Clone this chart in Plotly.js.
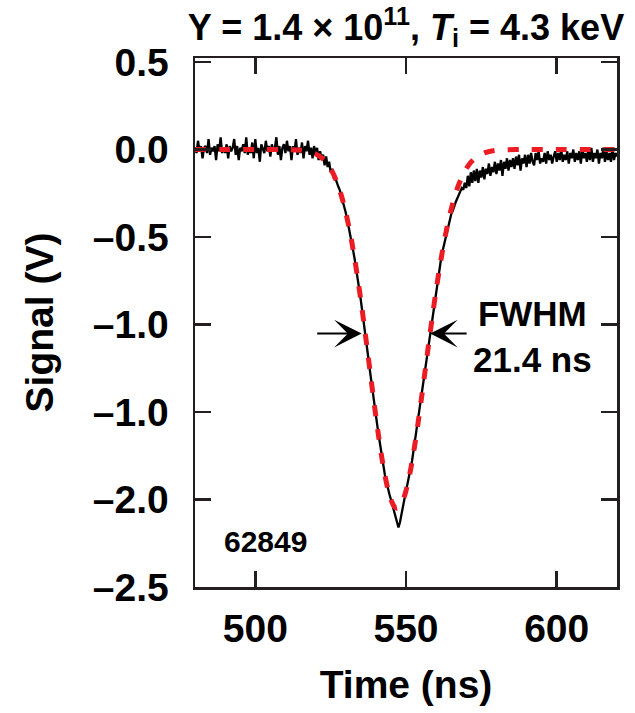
<!DOCTYPE html>
<html>
<head>
<meta charset="utf-8">
<script src="https://cdn.plot.ly/plotly-3.0.1.min.js"></script>
<style>html,body{margin:0;padding:0;background:#fff;}#chart{width:635px;height:713px;}</style>
</head>
<body>
<div id="chart"></div>
<script>
// Measured signal, sampled every 0.5 ns from 480 ns to 620 ns (rows of 5 ns)
const signalStartNs = 480;
const signalStepNs = 0.5;
const signalV = [
  0.01, -0.02, 0.05, -0.01, 0.02, -0.05, 0.01, 0.02, -0.02, 0.06,
  -0.03, 0.01, -0.01, 0.02, -0.06, 0.03, -0.01, 0.07, -0.02, 0.01,
  -0.02, 0.03, -0.05, 0.02, -0.01, 0.01, 0.06, -0.03, 0.02, -0.06,
  0.01, -0.01, 0.03, -0.02, 0.07, -0.03, 0.01, -0.02, 0.04, -0.05,
  0.06, -0.02, 0.01, -0.07, 0.03, 0.00, -0.02, 0.05, -0.01, 0.02,
  -0.04, 0.03, -0.01, 0.01, 0.07, -0.03, 0.02, -0.06, 0.01, 0.03,
  -0.02, 0.05, -0.01, 0.02, -0.06, 0.02, -0.01, 0.06, -0.03, 0.01,
  -0.02, 0.04, -0.05, 0.02, -0.01, 0.05, -0.03, 0.01, -0.05, 0.02,
  -0.03, 0.01, -0.06, -0.01, -0.05, -0.03, -0.09, -0.04, -0.10, -0.07,
  -0.13, -0.11, -0.16, -0.16, -0.19, -0.21, -0.23, -0.26, -0.29, -0.32,
  -0.36, -0.40, -0.44, -0.48, -0.53, -0.58, -0.63, -0.68, -0.74, -0.80,
  -0.86, -0.92, -0.99, -1.05, -1.12, -1.19, -1.26, -1.33, -1.39, -1.46,
  -1.52, -1.58, -1.64, -1.70, -1.76, -1.81, -1.86, -1.90, -1.94, -1.97,
  -2.00, -2.03, -2.06, -2.09, -2.12, -2.16, -2.13, -2.08, -2.03, -1.99,
  -1.95, -1.91, -1.87, -1.83, -1.78, -1.72, -1.66, -1.60, -1.54, -1.48,
  -1.42, -1.36, -1.30, -1.23, -1.17, -1.10, -1.04, -0.98, -0.92, -0.86,
  -0.80, -0.74, -0.69, -0.64, -0.59, -0.55, -0.51, -0.47, -0.44, -0.40,
  -0.37, -0.35, -0.32, -0.30, -0.28, -0.26, -0.25, -0.22, -0.23, -0.19,
  -0.22, -0.15, -0.21, -0.13, -0.19, -0.12, -0.18, -0.11, -0.19, -0.12,
  -0.16, -0.10, -0.17, -0.11, -0.14, -0.08, -0.15, -0.10, -0.13, -0.07,
  -0.14, -0.08, -0.12, -0.06, -0.15, -0.07, -0.11, -0.05, -0.12, -0.06,
  -0.10, -0.05, -0.11, -0.04, -0.09, -0.03, -0.12, -0.05, -0.08, -0.03,
  -0.10, -0.03, -0.08, -0.02, -0.07, -0.09, -0.02, -0.06, -0.01, -0.08,
  -0.05, -0.07, -0.02, -0.08, -0.01, -0.06, -0.03, -0.08, -0.04, -0.01,
  -0.07, -0.02, -0.06, 0.00, -0.07, -0.03, -0.06, -0.01, -0.08, -0.02,
  -0.05, 0.00, -0.07, -0.02, -0.06, -0.01, -0.08, 0.00, -0.05, -0.02,
  -0.07, 0.00, -0.06, 0.01, -0.07, -0.02, -0.05, 0.00, -0.08, -0.02,
  -0.05, 0.01, -0.07, -0.01, -0.06, -0.02, -0.07, 0.01, -0.06, -0.02,
  -0.04
];
const signalTimeNs = signalV.map((_, i) => signalStartNs + i * signalStepNs);

// Fitted curve (red dashed)
const fitTimeNs = [480, 490, 500, 510, 515, 518,
  520, 521, 522, 523, 524, 525, 526, 527, 528, 529,
  530, 531, 532, 533, 534, 535, 536, 537, 538, 539,
  540, 541, 542, 543, 544, 545, 546, 547, 548, 549,
  550, 551, 552, 553, 554, 555, 556, 557, 558, 559,
  560, 561, 562, 563, 564, 565, 566, 567, 568, 569,
  570, 571, 572, 573, 574, 575, 576, 577, 579, 581, 583,
  590, 600, 610, 620];
const fitV = [0, 0, 0, -0.001, -0.004, -0.013,
  -0.025, -0.035, -0.047, -0.063, -0.084, -0.110, -0.143, -0.183, -0.232, -0.290,
  -0.358, -0.437, -0.527, -0.628, -0.739, -0.859, -0.987, -1.121, -1.257, -1.393,
  -1.525, -1.649, -1.763, -1.861, -1.942, -2.001, -2.038, -2.050, -2.039, -2.005,
  -1.950, -1.876, -1.785, -1.679, -1.563, -1.438, -1.309, -1.178, -1.049, -0.923,
  -0.804, -0.692, -0.589, -0.496, -0.413, -0.340, -0.277, -0.223, -0.178, -0.140,
  -0.109, -0.084, -0.064, -0.048, -0.036, -0.027, -0.019, -0.014, -0.007, -0.003, -0.001,
  0, 0, 0, 0];

// Axis ticks
const xTickVals = [500, 550, 600];
const xTickText = ['500', '550', '600'];
const yTickVals = [0.5, 0.0, -0.5, -1.0, -1.5, -2.0, -2.5];
const yTickText = ['0.5', '0.0', '\u20130.5', '\u20131.0', '\u20131.0', '\u20132.0', '\u20132.5'];

// FWHM markers (time, signal level)
const fwhmLeftNs = 535.3;
const fwhmRightNs = 558.0;
const fwhmLevelV = -1.052;

const FONT = 'Liberation Sans, Arial, Helvetica, sans-serif';
const FRAME = '#231f20';

const traces = [
  {
    x: signalTimeNs, y: signalV, type: 'scatter', mode: 'lines',
    line: {color: '#000000', width: 2.3},
    hoverinfo: 'skip', showlegend: false
  },
  {
    x: fitTimeNs, y: fitV, type: 'scatter', mode: 'lines',
    line: {color: '#ec1c24', width: 5, dash: '11px,13px', shape: 'spline', smoothing: 0.6},
    hoverinfo: 'skip', showlegend: false
  }
];

const axisCommon = {
  showline: true, linecolor: FRAME, linewidth: 2.5, mirror: 'ticks',
  ticks: 'inside', ticklen: 16, tickwidth: 2.5, tickcolor: FRAME,
  showgrid: false, zeroline: false, tickmode: 'array',
  tickfont: {family: FONT, size: 39, color: '#000', weight: 700},
  automargin: false
};

const layout = {
  width: 635, height: 713,
  margin: {l: 195, r: 18, t: 58, b: 126, pad: 0},
  paper_bgcolor: '#ffffff', plot_bgcolor: '#ffffff',
  showlegend: false,
  title: {
    text: 'Y = 1.4 \u00d7 10<sup>11</sup>, <i>T</i><sub>i</sub> = 4.3 keV',
    font: {family: FONT, size: 36, color: '#000', weight: 700},
    x: 0.5, xref: 'paper', xanchor: 'center',
    y: 0.962, yref: 'container', yanchor: 'middle'
  },
  xaxis: Object.assign({}, axisCommon, {
    range: [480, 620], tickvals: xTickVals, ticktext: xTickText,
    ticklabelstandoff: 6,
    title: {text: 'Time (ns)', font: {family: FONT, size: 39, color: '#000', weight: 700}, standoff: 22}
  }),
  yaxis: Object.assign({}, axisCommon, {
    range: [-2.5, 0.523], tickvals: yTickVals, ticktext: yTickText,
    ticklabelstandoff: 16,
    title: {text: 'Signal (V)', font: {family: FONT, size: 39, color: '#000', weight: 700}, standoff: 27}
  }),
  annotations: [
    {x: 592, y: -1.07, xref: 'x', yref: 'y', text: 'FWHM<br>21.4 ns', showarrow: false,
     align: 'center', font: {family: FONT, size: 35, color: '#000', weight: 700}},
    {x: 503.3, y: -2.239, xref: 'x', yref: 'y', text: '62849', showarrow: false,
     font: {family: FONT, size: 30, color: '#000', weight: 700}},
    {x: fwhmLeftNs, y: fwhmLevelV, xref: 'x', yref: 'y', text: '', showarrow: true,
     ax: -46, ay: 0, arrowhead: 3, arrowsize: 2.3, arrowwidth: 2, arrowcolor: '#000', standoff: 0},
    {x: fwhmRightNs, y: fwhmLevelV, xref: 'x', yref: 'y', text: '', showarrow: true,
     ax: 38, ay: 0, arrowhead: 3, arrowsize: 2.3, arrowwidth: 2, arrowcolor: '#000', standoff: 0}
  ]
};

Plotly.newPlot('chart', traces, layout, {staticPlot: true, displayModeBar: false});
</script>
</body>
</html>
